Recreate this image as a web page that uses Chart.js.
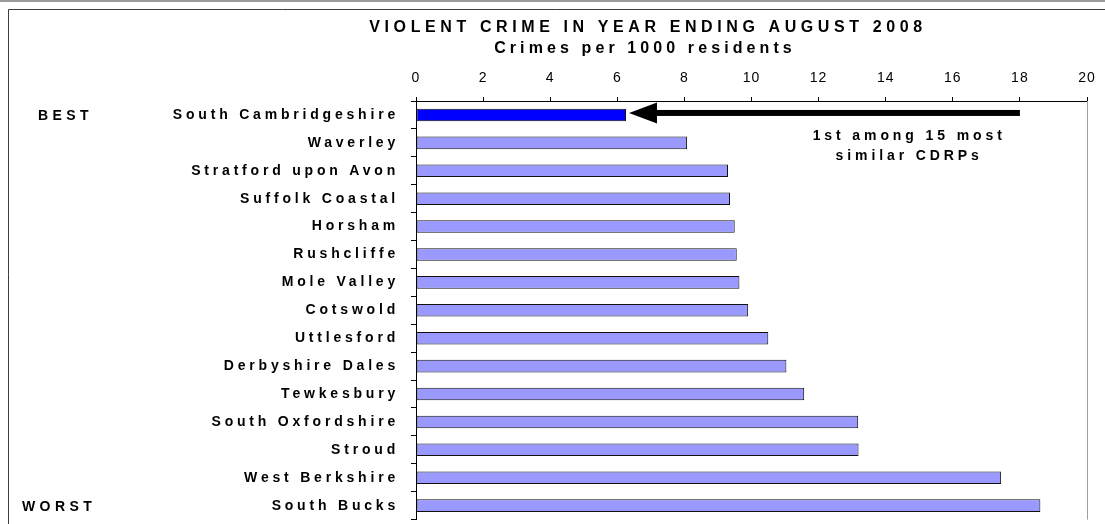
<!DOCTYPE html>
<html>
<head>
<meta charset="utf-8">
<title>Violent crime in year ending August 2008</title>
<script src="https://cdn.jsdelivr.net/npm/chart.js@4.4.0/dist/chart.umd.min.js"></script>
<style>
html, body { margin: 0; padding: 0; background: #fff; overflow: hidden; }
#wrap { position: relative; width: 1105px; height: 540px; }
</style>
</head>
<body>
<div id="wrap"><canvas id="crime"></canvas></div>
<script>
// CDRP areas, best to worst
var areas = [
    'South Cambridgeshire', 'Waverley', 'Stratford upon Avon', 'Suffolk Coastal',
    'Horsham', 'Rushcliffe', 'Mole Valley', 'Cotswold', 'Uttlesford',
    'Derbyshire Dales', 'Tewkesbury', 'South Oxfordshire', 'Stroud',
    'West Berkshire', 'South Bucks'
];
// violent crimes per 1000 residents
var rates = [6.26, 8.08, 9.30, 9.36, 9.50, 9.56, 9.64, 9.90, 10.50, 11.04, 11.57, 13.18, 13.19, 17.44, 18.61];
var xTicks = [0, 2, 4, 6, 8, 10, 12, 14, 16, 18, 20];

var titleLines = ['VIOLENT CRIME IN YEAR ENDING AUGUST 2008', 'Crimes per 1000 residents'];
var rankLabels = ['BEST', 'WORST'];
var noteLines = ['1st among 15 most', 'similar CDRPs'];
var arrowFrom = 18;   // arrow tail, in crimes per 1000
var noteAt = 14.7;    // note centre, in crimes per 1000

var FONT = '"Liberation Sans", Arial, Helvetica, sans-serif';

function spacedText(ctx, text, x, y, opts) {
    ctx.save();
    ctx.font = opts.font;
    ctx.letterSpacing = opts.spacing + 'px';
    ctx.fillStyle = '#000';
    ctx.textAlign = opts.align || 'center';
    ctx.textBaseline = 'middle';
    ctx.fillText(text, x, y);
    ctx.restore();
}

// frame, plot border, titles, BEST/WORST and the arrow note
var decorations = {
    id: 'decorations',
    beforeDraw: function (chart) {
        var ctx = chart.ctx, w = chart.width, h = chart.height;
        ctx.save();
        ctx.strokeStyle = '#9a9a9a';
        ctx.lineWidth = 2;
        ctx.beginPath();
        ctx.moveTo(0, 1);
        ctx.lineTo(w, 1);
        ctx.stroke();
        ctx.strokeStyle = '#3c3c3c';
        ctx.lineWidth = 1;
        ctx.beginPath();
        ctx.moveTo(8.5, h);
        ctx.lineTo(8.5, 9.5);
        ctx.lineTo(w, 9.5);
        ctx.stroke();
        ctx.restore();
    },
    afterDraw: function (chart) {
        var ctx = chart.ctx, area = chart.chartArea;
        var xs = chart.scales.x, ys = chart.scales.y;

        ctx.save();
        ctx.strokeStyle = '#a0a0a0';
        ctx.lineWidth = 1;
        ctx.beginPath();
        ctx.moveTo(Math.round(area.right) + 0.5, area.top);
        ctx.lineTo(Math.round(area.right) + 0.5, area.bottom);
        ctx.stroke();
        ctx.restore();

        spacedText(ctx, titleLines[0], 648, 28, { font: 'bold 16px ' + FONT, spacing: 4.6 });
        spacedText(ctx, titleLines[1], 645, 49, { font: 'bold 16px ' + FONT, spacing: 4.1 });

        var yBest = ys.getPixelForValue(0);
        var yWorst = ys.getPixelForValue(areas.length - 1);
        spacedText(ctx, rankLabels[0], 38, yBest + 1, { font: 'bold 14px ' + FONT, spacing: 4.4, align: 'left' });
        spacedText(ctx, rankLabels[1], 22, yWorst + 1, { font: 'bold 14px ' + FONT, spacing: 4.4, align: 'left' });

        // arrow pointing back at the top bar
        var tail = xs.getPixelForValue(arrowFrom);
        var tip = xs.getPixelForValue(rates[0]) + 3;
        var ay = yBest - 2;
        var headLen = 28, headHalf = 10.5, shaft = 6;
        ctx.save();
        ctx.fillStyle = '#000';
        ctx.fillRect(tip + headLen - 1, ay - shaft / 2, tail - tip - headLen + 1, shaft);
        ctx.beginPath();
        ctx.moveTo(tip, ay);
        ctx.lineTo(tip + headLen, ay - headHalf);
        ctx.lineTo(tip + headLen, ay + headHalf);
        ctx.closePath();
        ctx.fill();
        ctx.restore();

        var nx = xs.getPixelForValue(noteAt);
        spacedText(ctx, noteLines[0], nx, yBest + 21, { font: 'bold 14px ' + FONT, spacing: 3.9 });
        spacedText(ctx, noteLines[1], nx, yBest + 41, { font: 'bold 14px ' + FONT, spacing: 3.9 });
    }
};

// widen the tick label lettering the same way as the other text
var labelSpacing = {
    id: 'labelSpacing',
    afterLayout: function (chart) {
        [['x', 1], ['y', 3.8]].forEach(function (pair) {
            var scale = chart.scales[pair[0]];
            if (scale._spaced) return;
            var drawLabels = scale.drawLabels;
            scale.drawLabels = function (area) {
                this.ctx.save();
                this.ctx.letterSpacing = pair[1] + 'px';
                drawLabels.call(this, area);
                this.ctx.restore();
            };
            scale._spaced = true;
        });
    }
};

new Chart(document.getElementById('crime'), {
    type: 'bar',
    data: {
        labels: areas,
        datasets: [{
            data: rates,
            backgroundColor: function (c) { return c.dataIndex === 0 ? '#0000ff' : '#9999ff'; },
            borderColor: '#111',
            borderWidth: 1,
            borderSkipped: false,
            categoryPercentage: 1,
            barPercentage: 0.45
        }]
    },
    plugins: [decorations, labelSpacing],
    options: {
        indexAxis: 'y',
        responsive: true,
        maintainAspectRatio: false,
        animation: false,
        layout: { padding: { left: 0, right: 18, top: 0, bottom: 10 } },
        plugins: {
            legend: { display: false },
            tooltip: { enabled: false }
        },
        scales: {
            x: {
                position: 'top',
                min: 0,
                max: 20,
                afterBuildTicks: function (scale) {
                    scale.ticks = xTicks.map(function (v) { return { value: v }; });
                },
                afterFit: function (scale) { scale.height = 101; },
                grid: { drawOnChartArea: false, drawTicks: true, tickLength: 4, color: '#000' },
                border: { display: true, color: '#000', width: 1 },
                ticks: {
                    padding: 10,
                    color: '#000',
                    maxRotation: 0,
                    font: { family: FONT, size: 14 }
                }
            },
            y: {
                afterFit: function (scale) { scale.width = 416; },
                grid: { drawOnChartArea: false, drawTicks: true, tickLength: 5, color: '#000' },
                border: { display: true, color: '#000', width: 1 },
                ticks: {
                    padding: 12,
                    color: '#000',
                    autoSkip: false,
                    font: { family: FONT, size: 14, weight: 'bold' }
                }
            }
        }
    }
});
</script>
</body>
</html>
